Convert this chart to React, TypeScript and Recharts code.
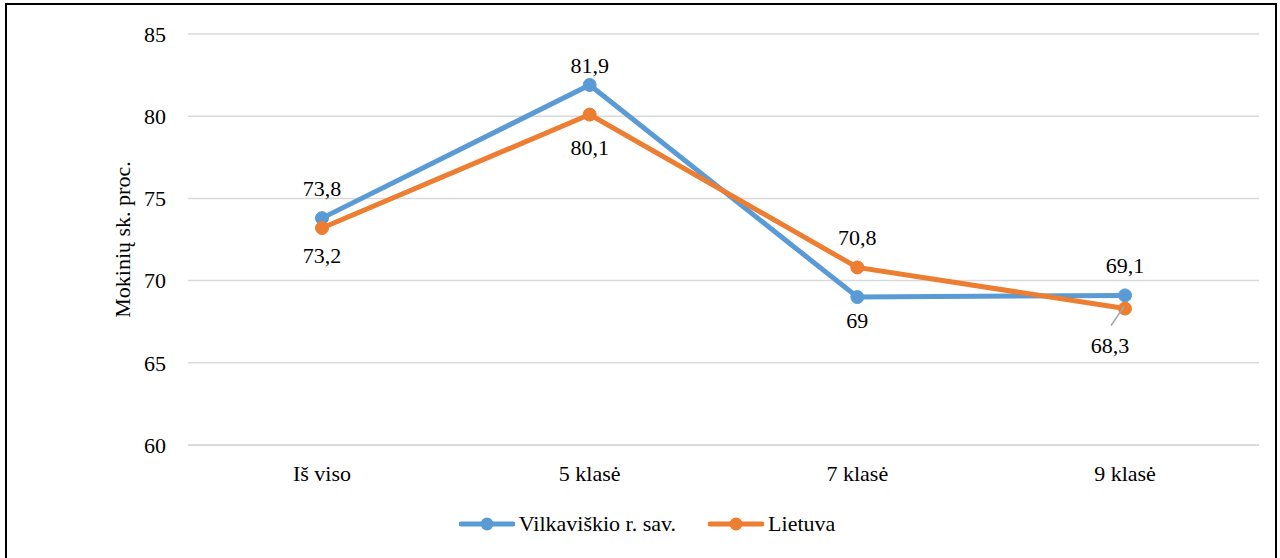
import {
  LineChart,
  Line,
  XAxis,
  YAxis,
  CartesianGrid,
  LabelList,
  Label,
} from "recharts";

const categories = ["Iš viso", "5 klasė", "7 klasė", "9 klasė"];
const vilkaviskis = [73.8, 81.9, 69, 69.1];
const lietuva = [73.2, 80.1, 70.8, 68.3];
const yTicks = [60, 65, 70, 75, 80, 85];

const seriesNames = ["Vilkaviškio r. sav.", "Lietuva"];
const colors = ["#5B9BD5", "#ED7D31"];

// label placement per point (center offset from the dot), like the Excel layout
const vilkLabelPos = [
  { dx: 0, dy: -30 },
  { dx: 0, dy: -20 },
  { dx: 0, dy: 23 },
  { dx: 0, dy: -30 },
];
const lietLabelPos = [
  { dx: 0, dy: 27 },
  { dx: 0, dy: 32 },
  { dx: 0, dy: -30 },
  { dx: -15, dy: 36, leader: true },
];

const data = categories.map((c, i) => ({
  name: c,
  vilk: vilkaviskis[i],
  liet: lietuva[i],
}));

const FONT =
  "'Times New Roman', 'Liberation Serif', 'Noto Serif', 'DejaVu Serif', Times, serif";
const FS = 22;
const fmt = (v: number) => String(v).replace(".", ",");

function makeLabel(pos: { dx: number; dy: number; leader?: boolean }[]) {
  return (props: any) => {
    const { x, y, value, index } = props;
    const p = pos[index];
    const cx = x + p.dx;
    const cy = y + p.dy;
    return (
      <g>
        {p.leader && (
          <line
            x1={cx + 1}
            y1={cy - 19}
            x2={x - 1}
            y2={y - 2}
            stroke="#A6A6A6"
            strokeWidth={1.5}
          />
        )}
        <text
          x={cx}
          y={cy + 8}
          textAnchor="middle"
          style={{ fontSize: FS, fontFamily: FONT }}
          fill="#000"
        >
          {fmt(value)}
        </text>
      </g>
    );
  };
}

function LegendBox() {
  return (
    <div
      style={{
        position: "absolute",
        left: 0,
        top: 510,
        width: 1280,
        display: "flex",
        justifyContent: "center",
        alignItems: "center",
        fontFamily: FONT,
        fontSize: FS,
        lineHeight: "28px",
        color: "#000",
        paddingLeft: 14,
        boxSizing: "border-box",
      }}
    >
      {seriesNames.map((n, i) => (
        <div
          key={n}
          style={{ display: "flex", alignItems: "center", marginRight: i === 0 ? 32 : 0 }}
        >
          <svg width={56} height={16} style={{ marginRight: 4 }}>
            <line x1={2} y1={8} x2={54} y2={8} stroke={colors[i]} strokeWidth={5} strokeLinecap="round" />
            <circle cx={28} cy={8} r={6.5} fill={colors[i]} />
          </svg>
          <span>{n}</span>
        </div>
      ))}
    </div>
  );
}

const tickStyle = { fontSize: FS, fontFamily: FONT, fill: "#000" };

export default function App() {
  return (
    <div
      style={{
        position: "absolute",
        left: 0,
        top: 0,
        width: 1280,
        height: 558,
        overflow: "hidden",
        background: "#fff",
        fontFamily: FONT,
      }}
    >
      <div
        style={{
          position: "absolute",
          left: 5,
          top: 3,
          width: 1268,
          height: 570,
          border: "2px solid #000",
        }}
      />
      <div style={{ position: "absolute", left: 0, top: 0 }}>
        <LineChart
          width={1280}
          height={558}
          data={data}
          margin={{ top: 34, right: 21, bottom: 83, left: 0 }}
          style={{ fontFamily: FONT }}
        >
          <CartesianGrid vertical={false} stroke="#D9D9D9" strokeWidth={1.5} />
          <XAxis
            dataKey="name"
            height={30}
            padding={{ left: 134, right: 134 }}
            axisLine={{ stroke: "#D9D9D9", strokeWidth: 1.5 }}
            tickLine={false}
            tickSize={0}
            tickMargin={20}
            tick={tickStyle}
          />
          <YAxis
            domain={[60, 85]}
            ticks={yTicks}
            width={188}
            axisLine={false}
            tickLine={false}
            tickSize={0}
            tickMargin={22}
            tick={tickStyle}
          >
            <Label
              content={({ viewBox }: any) => {
                const cy = viewBox.y + viewBox.height / 2;
                return (
                  <text
                    x={130}
                    y={cy}
                    transform={`rotate(-90, 130, ${cy})`}
                    textAnchor="middle"
                    style={{ fontSize: FS, fontFamily: FONT }}
                    fill="#000"
                  >
                    Mokinių sk. proc.
                  </text>
                );
              }}
            />
          </YAxis>
          <Line
            dataKey="vilk"
            name={seriesNames[0]}
            stroke={colors[0]}
            strokeWidth={5}
            dot={{ r: 6.5, fill: colors[0], stroke: colors[0], strokeWidth: 1 }}
            isAnimationActive={false}
          >
            <LabelList dataKey="vilk" content={makeLabel(vilkLabelPos)} />
          </Line>
          <Line
            dataKey="liet"
            name={seriesNames[1]}
            stroke={colors[1]}
            strokeWidth={5}
            dot={{ r: 6.5, fill: colors[1], stroke: colors[1], strokeWidth: 1 }}
            isAnimationActive={false}
          >
            <LabelList dataKey="liet" content={makeLabel(lietLabelPos)} />
          </Line>
        </LineChart>
      </div>
      <LegendBox />
    </div>
  );
}
